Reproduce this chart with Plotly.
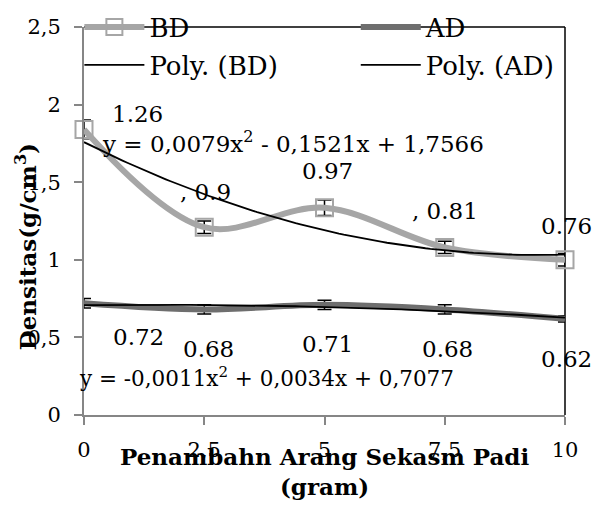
import numpy as np
import plotly.graph_objects as go

# ---- data ----
x_vals = [0, 2.5, 5, 7.5, 10]
x_ticktext = ["0", "2,5", "5", "7,5", "10"]
bd_vals = [1.84, 1.21, 1.335, 1.08, 1.0]
bd_err = [0.06, 0.04, 0.05, 0.04, 0.04]
ad_vals = [0.72, 0.68, 0.71, 0.68, 0.62]
ad_err = [0.03, 0.03, 0.03, 0.03, 0.02]
bd_labels = ["1.26", ", 0.9", "0.97", ", 0.81", "0.76"]
ad_labels = ["0.72", "0.68", "0.71", "0.68", "0.62"]
bd_eq = "y = 0,0079x<sup>2</sup> - 0,1521x + 1,7566"
ad_eq = "y = -0,0011x<sup>2</sup> + 0,0034x + 0,7077"
y_title = "Densitas(g/cm<sup>3</sup>)"
x_title = "Penambahn Arang Sekasm Padi<br>(gram)"

# ---- styling ----
FONT = "DejaVu Serif"
BD_COLOR = "#A6A6A6"
AD_COLOR = "#6E6E6E"
AX_COLOR = "#868686"
bd_shift = [(53, 15), (1, 35), (3, 37), (0, 36), (1, 34)]
ad_shift = [(54, -34), (4, -40), (3, -39), (3, -40), (1, -40)]

# trendlines (2nd order polynomial fitted to the data)
xs = np.linspace(0, 10, 101)
bd_fit = np.polyval(np.polyfit(x_vals, bd_vals, 2), xs)
ad_fit = np.polyval(np.polyfit(x_vals, ad_vals, 2), xs)

fig = go.Figure()
fig.add_trace(go.Scatter(
    x=x_vals, y=bd_vals, name="BD", mode="lines+markers",
    line=dict(color=BD_COLOR, width=6, shape="spline", smoothing=1),
    marker=dict(symbol="square-open", size=17, color=BD_COLOR, line=dict(width=2)),
    error_y=dict(type="data", array=bd_err, color="black", thickness=1.5, width=7),
    legend="legend", cliponaxis=False,
))
fig.add_trace(go.Scatter(
    x=x_vals, y=ad_vals, name="AD", mode="lines",
    line=dict(color=AD_COLOR, width=6, shape="spline", smoothing=1),
    error_y=dict(type="data", array=ad_err, color="black", thickness=1.5, width=7),
    legend="legend2", cliponaxis=False,
))
fig.add_trace(go.Scatter(
    x=xs, y=bd_fit, name="Poly. (BD)", mode="lines",
    line=dict(color="black", width=1.8), legend="legend3",
))
fig.add_trace(go.Scatter(
    x=xs, y=ad_fit, name="Poly. (AD)", mode="lines",
    line=dict(color="black", width=1.8), legend="legend4",
))

LBL = 23
annotations = []
for xv, yv, t, (dx, dy) in zip(x_vals, bd_vals, bd_labels, bd_shift):
    annotations.append(dict(x=xv, y=yv, xref="x", yref="y", text=t, showarrow=False,
                            xshift=dx, yshift=dy, font=dict(family=FONT, size=LBL, color="black")))
for xv, yv, t, (dx, dy) in zip(x_vals, ad_vals, ad_labels, ad_shift):
    annotations.append(dict(x=xv, y=yv, xref="x", yref="y", text=t, showarrow=False,
                            xshift=dx, yshift=dy, font=dict(family=FONT, size=LBL, color="black")))
annotations.append(dict(x=0.0333, y=0.7036, xref="paper", yref="paper", text=bd_eq,
                        showarrow=False, xanchor="left", yanchor="middle",
                        font=dict(family=FONT, size=23, color="black")))
annotations.append(dict(x=-0.0146, y=0.098, xref="paper", yref="paper", text=ad_eq,
                        showarrow=False, xanchor="left", yanchor="middle",
                        font=dict(family=FONT, size=21.5, color="black")))
annotations.append(dict(x=-0.12, y=0.433, xref="paper", yref="paper", text=y_title,
                        showarrow=False, textangle=-90, xanchor="center", yanchor="middle",
                        font=dict(family=FONT, size=23, color="black", weight="bold")))
annotations.append(dict(x=0.501, y=-0.145, xref="paper", yref="paper", text=x_title,
                        showarrow=False, xanchor="center", yanchor="middle",
                        font=dict(family=FONT, size=23, color="black", weight="bold")))

def leg(x, y):
    return dict(x=x, y=y, xanchor="left", yanchor="middle", bgcolor="rgba(0,0,0,0)",
                font=dict(family=FONT, size=26, color="black"), itemwidth=60)

fig.update_layout(
    width=592, height=507,
    margin=dict(l=84, r=27, t=27, b=92, autoexpand=False),
    paper_bgcolor="white", plot_bgcolor="white",
    separators=", ",
    font=dict(family=FONT, size=21, color="black"),
    showlegend=True,
    legend=leg(-0.0096, 1.0),
    legend2=leg(0.565, 1.0),
    legend3=leg(-0.0096, 0.902),
    legend4=leg(0.565, 0.902),
    xaxis=dict(range=[0, 10], tickvals=x_vals, ticktext=x_ticktext, showgrid=False,
               zeroline=False, showline=True, linecolor=AX_COLOR, linewidth=2,
               ticks="outside", ticklen=8, tickcolor=AX_COLOR, tickwidth=1.5,
               ticklabelstandoff=7, tickfont=dict(family=FONT, size=21)),
    yaxis=dict(range=[0, 2.5], dtick=0.5, showgrid=False, zeroline=False,
               showline=True, linecolor=AX_COLOR, linewidth=2,
               ticks="outside", ticklen=8, tickcolor=AX_COLOR, tickwidth=1.5,
               ticklabelstandoff=9, tickfont=dict(family=FONT, size=21)),
    annotations=annotations,
    shapes=[
        dict(type="line", xref="paper", yref="paper", x0=0, x1=1, y0=1, y1=1,
             line=dict(color="black", width=1.5), layer="below"),
        dict(type="line", xref="paper", yref="paper", x0=1, x1=1, y0=0, y1=1,
             line=dict(color="black", width=1.5), layer="below"),
    ],
)

fig.write_html(
    "out.html",
    config={"displayModeBar": False},
    post_script="document.body.style.margin='0';document.body.style.overflow='hidden';",
)
